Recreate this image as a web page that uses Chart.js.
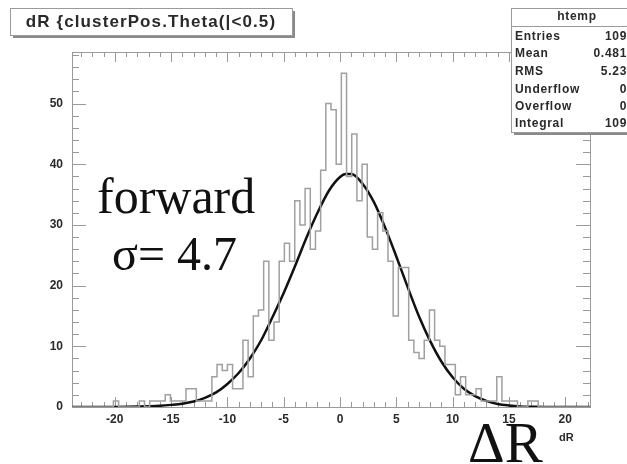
<!DOCTYPE html>
<html>
<head>
<meta charset="utf-8">
<script src="https://cdn.jsdelivr.net/npm/chart.js@4/dist/chart.umd.min.js"></script>
<style>
  html, body { margin: 0; padding: 0; background: #fff; }
  #wrap { position: relative; width: 627px; height: 464px; }
</style>
</head>
<body>
<div id="wrap"><canvas id="c"></canvas></div>
<script>
// histogram: 100 bins of dR
const binLow = -23.8;
const binWidth = 0.46;
const binCounts = [
  0, 0, 0, 0, 0, 0, 0, 0, 0, 1,
  0, 0, 0, 0, 1, 0, 1, 1, 1, 2,
  1, 1, 1, 3, 3, 1, 1, 1, 5, 7,
  6, 7, 3, 3, 11, 5, 15, 16, 24, 11,
  14, 24, 27, 24, 34, 30, 36, 26, 29, 39,
  50, 49, 40, 55, 38, 45, 34, 40, 28, 26,
  32, 29, 24, 15, 23, 23, 11, 9, 8, 11,
  16, 11, 10, 7, 7, 2, 5, 2, 2, 3,
  1, 1, 1, 5, 1, 1, 1, 0, 0, 1,
  1, 0, 0, 0, 0, 0, 0, 0, 0, 0
];

// gaussian fit curve
const fitX = [-23.8, -20, -18, -16, -15, -14, -13, -12, -11, -10, -9, -8, -7, -6, -5, -4, -3, -2, -1, 0,
  0.5, 1, 2, 3, 4, 5, 6, 7, 8, 9, 10, 11, 12, 13, 14, 15, 16, 18, 20, 22.2];
const fitY = [0, 0.02, 0.07, 0.2, 0.35, 0.55, 0.9, 1.5, 2.4, 3.8, 5.6, 8.0, 11.0, 14.8, 18.8, 23.2, 27.8, 32.0, 35.6, 37.9,
  38.4, 38.4, 36.8, 33.8, 29.6, 24.8, 19.8, 15.0, 10.9, 7.5, 4.9, 3.0, 1.8, 1.0, 0.5, 0.25, 0.1, 0.02, 0, 0];

const xRange = [-23.8, 22.2];
const yRange = [0, 58.5];
const xTicks = [-20, -15, -10, -5, 0, 5, 10, 15, 20];
const yTicks = [0, 10, 20, 30, 40, 50];

const titleText = 'dR {clusterPos.Theta(|<0.5)';
const statsName = 'htemp';
const statsLabels = ['Entries', 'Mean', 'RMS', 'Underflow', 'Overflow', 'Integral'];
const statsValues = ['109', '0.481', '5.23', '0', '0', '109'];
const noteLines = ['forward', 'σ= 4.7'];
const axisTitle = 'ΔR';
const axisName = 'dR';

const histPoints = binCounts.map((c, i) => ({ x: binLow + i * binWidth, y: c }));
histPoints.push({ x: binLow + binCounts.length * binWidth, y: binCounts[binCounts.length - 1] });
const fitPoints = fitX.map((x, i) => ({ x, y: fitY[i] }));

const TXT = '#2a2a2a';
const GREY = '#9a9a9a';
const SANS = '"Liberation Sans", Arial, sans-serif';
const SERIF = '"Liberation Serif", "Times New Roman", serif';

function pave(ctx, x, y, w, h) {
  ctx.fillStyle = '#8a8a8a';
  ctx.fillRect(x + 3, y + 3, w, h);
  ctx.fillStyle = '#fff';
  ctx.fillRect(x, y, w, h);
  ctx.strokeStyle = GREY;
  ctx.lineWidth = 1;
  ctx.strokeRect(x + 0.5, y + 0.5, w, h);
}

// ROOT style frame: ticks inside on all four sides, text panes on top
const rootFrame = {
  id: 'rootFrame',
  beforeDatasetsDraw(chart) {
    const { ctx, chartArea: a, scales: { x, y } } = chart;
    ctx.save();
    ctx.strokeStyle = GREY;
    ctx.lineWidth = 1;
    ctx.strokeRect(a.left + 0.5, a.top + 0.5, a.right - a.left, a.bottom - a.top);
    ctx.beginPath();
    for (let v = Math.ceil(xRange[0]); v <= xRange[1]; v++) {
      const px = Math.round(x.getPixelForValue(v)) + 0.5;
      const len = v % 5 === 0 ? 10 : 5;
      ctx.moveTo(px, a.bottom); ctx.lineTo(px, a.bottom - len);
      ctx.moveTo(px, a.top); ctx.lineTo(px, a.top + len);
    }
    for (let v = 0; v <= yRange[1]; v += 2) {
      const py = Math.round(y.getPixelForValue(v)) + 0.5;
      const len = v % 10 === 0 ? 14 : 7;
      ctx.moveTo(a.left, py); ctx.lineTo(a.left + len, py);
      ctx.moveTo(a.right, py); ctx.lineTo(a.right - len, py);
    }
    ctx.stroke();
    ctx.restore();
  },
  afterDraw(chart) {
    const { ctx } = chart;
    ctx.save();
    // title pane
    pave(ctx, 10, 8, 282, 27);
    ctx.fillStyle = TXT;
    ctx.font = 'bold 17px ' + SANS;
    ctx.letterSpacing = '1.1px';
    ctx.textAlign = 'center';
    ctx.textBaseline = 'middle';
    ctx.fillText(titleText, 151, 22);

    // stats pane
    pave(ctx, 511, 8, 130, 124);
    ctx.strokeStyle = GREY;
    ctx.beginPath(); ctx.moveTo(511, 26.5); ctx.lineTo(627, 26.5); ctx.stroke();
    ctx.fillStyle = TXT;
    ctx.font = 'bold 12px ' + SANS;
    ctx.letterSpacing = '0.7px';
    ctx.fillText(statsName, 577, 17);
    const rowY = [37, 54, 72, 90, 107, 124];
    statsLabels.forEach((lab, i) => {
      ctx.textAlign = 'left';
      ctx.fillText(lab, 515, rowY[i]);
      ctx.textAlign = 'right';
      ctx.fillText(statsValues[i], 627, rowY[i]);
    });
    ctx.letterSpacing = '0px';

    // big annotations
    ctx.fillStyle = '#111';
    ctx.textAlign = 'left';
    ctx.textBaseline = 'alphabetic';
    ctx.font = '50px ' + SERIF;
    ctx.fillText(noteLines[0], 97, 213);
    ctx.font = '48px ' + SERIF;
    ctx.fillText(noteLines[1], 112, 270);
    ctx.font = '57px ' + SERIF;
    ctx.fillText(axisTitle, 468, 462);
    ctx.fillStyle = TXT;
    ctx.font = 'bold 11px ' + SANS;
    ctx.fillText(axisName, 559, 441);
    ctx.restore();
  }
};

const tickFont = { family: SANS, size: 12, weight: 'bold' };

new Chart(document.getElementById('c'), {
  type: 'line',
  data: {
    datasets: [
      {
        label: 'htemp', data: histPoints, stepped: 'after',
        borderColor: '#a0a0a0', borderWidth: 1.5, pointRadius: 0, fill: false
      },
      {
        label: 'fit', data: fitPoints, cubicInterpolationMode: 'monotone',
        borderColor: '#111', borderWidth: 2.5, pointRadius: 0, fill: false
      }
    ]
  },
  options: {
    responsive: true, maintainAspectRatio: false, animation: false,
    layout: { padding: { left: 0, right: 37, top: 52, bottom: 0 } },
    scales: {
      x: {
        type: 'linear', min: xRange[0], max: xRange[1],
        afterFit: s => { s.height = 57; },
        afterBuildTicks: s => { s.ticks = xTicks.map(v => ({ value: v })); },
        ticks: { color: TXT, font: tickFont, padding: 5, maxRotation: 0, autoSkip: false },
        grid: { display: false, drawTicks: false }, border: { display: false }
      },
      y: {
        min: yRange[0], max: yRange[1],
        afterFit: s => { s.width = 72; },
        afterBuildTicks: s => { s.ticks = yTicks.map(v => ({ value: v })); },
        ticks: { color: TXT, font: tickFont, padding: 9, autoSkip: false },
        grid: { display: false, drawTicks: false }, border: { display: false }
      }
    },
    plugins: { legend: { display: false }, tooltip: { enabled: false } }
  },
  plugins: [rootFrame]
});
</script>
</body>
</html>
